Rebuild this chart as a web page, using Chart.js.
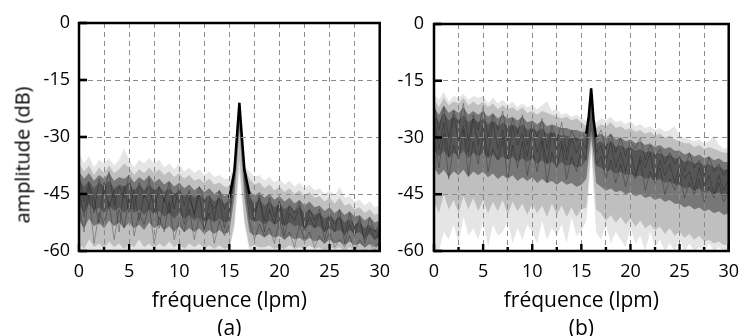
<!DOCTYPE html>
<html>
<head>
<meta charset="utf-8">
<script src="https://cdn.jsdelivr.net/npm/chart.js@4.4.1/dist/chart.umd.min.js"></script>
<style>
  body { margin: 0; background: #fff; }
  #wrap { position: relative; width: 749px; height: 336px; overflow: hidden; }
  canvas { position: absolute; top: 0; }
  #chartA { left: 0; }
  #chartB { left: 380px; }
  #yTitle {
    position: absolute; left: 22px; top: 155px;
    transform: translate(-50%, -50%) rotate(-90deg);
    font: 20px 'Open Sans', sans-serif; color: #000; white-space: nowrap;
  }
</style>
</head>
<body>
<div id="wrap">
  <canvas id="chartA" width="400" height="336"></canvas>
  <canvas id="chartB" width="369" height="336"></canvas>
  <div id="yTitle">amplitude (dB)</div>
</div>
<script>
// frequency axis (lpm), extra points around the 16 lpm peak
const freq = [0,0.5,1,1.5,2,2.5,3,3.5,4,4.5,5,5.5,6,6.5,7,7.5,8,8.5,9,9.5,
  10,10.5,11,11.5,12,12.5,13,13.5,14,14.5,15,15.5,15.75,16,16.25,16.5,17,17.5,18,18.5,
  19,19.5,20,20.5,21,21.5,22,22.5,23,23.5,24,24.5,25,25.5,26,26.5,27,27.5,28,28.5,
  29,29.5,30];

const xTickLabels = [0, 5, 10, 15, 20, 25, 30];
const yTickLabels = [0, -15, -30, -45, -60];

// ---- panel (a) ----
const aUpper = [-34,-37,-35,-38,-36,-37,-35.5,-37.5,-36,-33,
  -36,-38,-36,-37,-35.5,-37,-36,-38,-37,-38.5,
  -37,-39,-38,-39.5,-38.5,-40,-39,-40.5,-40,-41,
  -41,-37,-29,-20.5,-29,-37.5,-39,-40.5,-40,-41.5,
  -40.5,-42,-41,-42.5,-41.5,-43,-42,-43.5,-42.5,-44,
  -43.5,-45,-44,-45.5,-43,-46,-45.5,-47,-46.5,-48,
  -47,-48.5,-48];
const aLower = [-60,-60,-60,-60,-60,-60,-60,-60,-60,-60,
  -60,-60,-60,-60,-60,-60,-60,-60,-60,-60,
  -60,-60,-60,-60,-60,-60,-60,-60,-60,-60,
  -60,-54,-47,-39,-47,-53,-60,-60,-60,-60,
  -60,-60,-60,-60,-60,-60,-60,-60,-60,-60,
  -60,-60,-60,-60,-60,-60,-60,-60,-60,-60,
  -60,-60,-60];
const aMidTop = [-37,-39,-37.5,-40,-38,-39.5,-37.5,-39.5,-38.5,-37,
  -38,-40,-38.5,-39.5,-38,-39.5,-38.5,-40,-39,-40.5,
  -39.5,-41,-40,-41.5,-41,-42,-41,-42.5,-42,-43,
  -43,-38,-29.5,-21,-29.5,-38,-41,-42.5,-42,-43.5,
  -42.5,-44,-43,-44.5,-43.5,-45,-44,-45.5,-44.5,-46,
  -45.5,-47,-46,-47.5,-46,-48,-47.5,-49,-48.5,-50,
  -49,-50.5,-50];
const aMidBot = [-58,-59.5,-57,-59,-58,-59.5,-57.5,-59,-58,-59.5,
  -58,-59,-57,-59,-58,-59.5,-58,-59,-57.5,-59,
  -58,-59.5,-58,-59,-58,-59.5,-58.5,-59.5,-58.5,-59.5,
  -59,-53,-44,-36,-44,-52,-59,-58.5,-59,-59,
  -58.5,-59.5,-59,-59.5,-58.5,-59.5,-59,-59.5,-58.5,-59.5,
  -59,-60,-59,-59.5,-59,-60,-59,-60,-59.5,-60,
  -59.5,-60,-60];
const aDarkTop = [-39,-41,-39.5,-41.5,-40,-41,-39.5,-41.5,-40.5,-41,
  -40,-42,-40.5,-41.5,-40,-42,-41,-42.5,-41.5,-43,
  -42,-43.5,-42.5,-44,-43,-44.5,-43.5,-45,-44,-45.5,
  -45,-38.5,-30,-21.5,-30,-39,-44,-45.5,-44.5,-46,
  -45,-46.5,-45.5,-47,-46,-47.5,-46.5,-48,-47,-48.5,
  -48,-49.5,-48.5,-50,-49,-50.5,-49.5,-51,-50.5,-52,
  -51,-52.5,-52];
const aDarkBot = [-52,-54,-51.5,-53.5,-52.5,-54,-52,-53.5,-52.5,-54,
  -52.5,-54,-53,-54.5,-52.5,-54,-53,-54.5,-53.5,-55,
  -53.5,-55,-54,-55,-54,-55.5,-54.5,-55.5,-54.5,-55.5,
  -55,-46,-37,-28,-37,-46,-55,-56,-55.5,-56.5,
  -55.5,-56.5,-56,-57,-56,-57,-56.5,-57.5,-56.5,-57.5,
  -57,-58,-57,-58,-57.5,-58.5,-57.5,-58.5,-58,-59,
  -58,-59,-58.5];
const aCoreTop = [-41,-43,-41.5,-43.5,-42,-43,-41.5,-43.5,-42.5,-43,
  -42,-44,-42.5,-44,-42.5,-44,-43,-44.5,-43.5,-45,
  -44,-45.5,-44.5,-46,-45,-46.5,-45.5,-47,-46,-47.5,
  -47,-39,-30,-21.5,-30,-39.5,-46,-47.5,-46.5,-48,
  -47,-48.5,-47.5,-49,-48,-49.5,-48.5,-50,-49,-50.5,
  -50,-51.5,-50.5,-52,-51,-52.5,-51.5,-53,-52.5,-54,
  -53,-54.5,-54];
const aCoreBot = [-48,-50,-47.5,-49.5,-48.5,-50,-48,-49.5,-48.5,-50,
  -48.5,-50,-49,-50.5,-49,-50.5,-49.5,-51,-50,-51.5,
  -50,-51.5,-50.5,-52,-51,-52.5,-51.5,-52.5,-51.5,-52.5,
  -52,-42,-33,-24,-33,-42,-51.5,-52.5,-52,-53,
  -52,-53,-52.5,-53.5,-52.5,-53.5,-53,-54,-53,-54,
  -53.5,-55,-54,-55,-54.5,-55.5,-54.5,-55.5,-55,-56.5,
  -55.5,-57,-56.5];
const aTrace1 = [-40,-47,-42,-50,-41,-45,-39,-48,-43,-46,
  -40,-49,-42,-46,-41,-50,-43,-47,-42,-49,
  -43,-48,-44,-51,-43,-47,-45,-52,-44,-49,
  -46,-39,-30,-21,-30,-39,-45,-50,-46,-52,
  -46,-51,-47,-53,-48,-50,-47,-54,-49,-52,
  -49,-55,-50,-53,-51,-56,-50,-54,-52,-57,
  -51,-55,-53];
const aTrace2 = [-48,-55,-45,-58,-50,-53,-47,-57,-49,-54,
  -46,-56,-50,-53,-48,-58,-51,-55,-47,-57,
  -52,-55,-49,-57,-51,-54,-50,-58,-52,-56,
  -53,-40,-31,-22,-31,-40,-52,-57,-53,-56,
  -54,-58,-52,-57,-55,-59,-53,-57,-55,-59,
  -56,-58,-55,-59,-57,-59,-56,-60,-57,-59,
  -58,-60,-57];
const aTrace3 = [-44,-51,-43,-46,-53,-42,-49,-44,-55,-43,
  -50,-44,-52,-45,-48,-43,-54,-46,-50,-45,
  -47,-53,-46,-50,-45,-55,-47,-49,-46,-54,
  -49,-39.5,-30.5,-21.5,-30.5,-39.5,-47,-52,-45,-55,
  -49,-53,-47,-56,-50,-52,-48,-55,-51,-54,
  -50,-57,-52,-55,-49,-58,-53,-56,-51,-58,
  -54,-57,-55];
const aPeak = [null,null,null,null,null,null,null,null,null,null,
  null,null,null,null,null,null,null,null,null,null,
  null,null,null,null,null,null,null,null,null,null,
  -46,-39,-30,-21,-30,-38.5,-45,null,null,null,
  null,null,null,null,null,null,null,null,null,null,
  null,null,null,null,null,null,null,null,null,null,
  null,null,null];

// ---- panel (b) ----
const bUpper = [-18.5,-20,-18,-20.5,-19,-19.5,-18.5,-20,-19,-19.5,
  -19,-21,-19.5,-21,-20,-21.5,-20.5,-22,-21,-22,
  -21.5,-22.5,-21.5,-20.5,-23,-22.5,-24,-23.5,-24.5,-24,
  -25,-25.5,-24,-16.5,-25,-26,-25,-25.5,-24.5,-26,
  -25.5,-26.5,-25.5,-27,-26.5,-27.5,-27,-28,-27.5,-28.5,
  -28,-27,-29.5,-30,-30.5,-31,-30.5,-31.5,-31,-29.5,
  -32,-33,-32.5];
const bLower = [-60,-60,-55,-57,-53,-58,-51,-56,-54,-57,
  -52,-59,-53,-56,-55,-52,-58,-54,-57,-53,
  -55,-58,-52,-57,-54,-56,-53,-58,-51,-56,
  -55,-52,-45,-33,-45,-55,-57,-53,-58,-55,
  -57,-59,-54,-58,-56,-60,-55,-59,-57,-60,
  -58,-60,-57,-60,-58,-60,-59,-60,-58,-60,
  -59,-60,-60];
const bMidTop = [-20,-22,-19.5,-21.5,-20.5,-21,-19.5,-21.5,-20.5,-21.5,
  -20.5,-22,-21,-22.5,-21.5,-22.5,-22,-23,-22,-23.5,
  -23,-24,-23,-23.5,-24,-24.5,-25,-24.5,-25.5,-25,
  -26,-27,-25,-17,-26,-27.5,-26.5,-27,-26,-27.5,
  -27,-28,-27.5,-28.5,-28,-29,-28.5,-29.5,-29,-30,
  -29.5,-30.5,-31,-31.5,-31.5,-32.5,-32,-33,-32.5,-33,
  -33.5,-34,-34];
const bMidBot = [-47,-50,-45,-49,-46.5,-50,-45.5,-49,-46,-49.5,
  -46.5,-50,-47,-49.5,-46.5,-50.5,-47,-49.5,-47.5,-50.5,
  -47.5,-50,-48,-51,-47.5,-50.5,-48,-51,-48.5,-51,
  -49,-48.5,-41,-32,-41,-49,-50,-52,-50.5,-52.5,
  -51,-53,-51.5,-53.5,-52,-54,-53,-54.5,-53.5,-55.5,
  -54,-56,-55,-56.5,-55.5,-57,-56,-57.5,-57,-58,
  -57.5,-58.5,-58];
const bDarkTop = [-22,-24,-21.5,-23.5,-22.5,-23.5,-22,-24,-23,-24,
  -23,-24.5,-23.5,-25,-24,-25,-24.5,-25.5,-24.5,-26,
  -25.5,-26.5,-25.5,-27,-26.5,-27,-27.5,-27.5,-28,-28,
  -28.5,-28.5,-25.5,-17.5,-27,-29.5,-29,-30,-29,-30.5,
  -30,-31,-30.5,-31.5,-31,-32,-31.5,-32.5,-32,-33,
  -32.5,-33.5,-33.5,-34.5,-34,-35,-34.5,-35.5,-35,-36,
  -35.5,-36.5,-36.5];
const bDarkBot = [-38,-40,-38.5,-40.5,-39,-40,-38.5,-40.5,-39,-40,
  -39,-40.5,-39.5,-41,-40,-41,-40,-41.5,-40.5,-41.5,
  -40.5,-42,-41,-42,-41.5,-42.5,-41.5,-42.5,-42,-43,
  -42.5,-41,-35,-30,-35,-42,-43,-44,-43.5,-44.5,
  -44,-45,-44.5,-45.5,-45,-46,-45.5,-46.5,-46,-47,
  -46.5,-47.5,-47.5,-48.5,-48,-49,-48.5,-49.5,-49,-50,
  -49.5,-50.5,-50];
const bCoreTop = [-24,-26,-23.5,-25.5,-24.5,-25.5,-24,-26,-25,-26,
  -25,-26.5,-25.5,-27,-26,-27,-26.5,-27.5,-26.5,-28,
  -27.5,-28.5,-27.5,-29,-28.5,-29,-29.5,-29.5,-30,-30,
  -30.5,-30,-26,-18,-27.5,-31.5,-31,-32,-31,-32.5,
  -32,-33,-32.5,-33.5,-33,-34,-33.5,-34.5,-34,-35,
  -34.5,-35.5,-35.5,-36.5,-36,-37,-36.5,-37.5,-37,-38,
  -37.5,-38.5,-38.5];
const bCoreBot = [-33,-35,-33.5,-35.5,-34,-35,-33.5,-35.5,-34,-35,
  -34,-35.5,-34.5,-36,-35,-36,-35,-36.5,-35.5,-36.5,
  -35.5,-37,-36,-37,-36.5,-37.5,-36.5,-37.5,-37,-38,
  -37.5,-36,-31,-28,-31,-37.5,-38,-39,-38.5,-39.5,
  -39,-40,-39.5,-40.5,-40,-41,-40.5,-41.5,-41,-42,
  -41.5,-42.5,-42.5,-43.5,-43,-44,-43.5,-44.5,-44,-45,
  -44.5,-45.5,-45];
const bTrace1 = [-21,-28,-22,-30,-23,-27,-21,-31,-24,-28,
  -22,-30,-24,-28,-23,-31,-25,-29,-24,-32,
  -26,-30,-25,-33,-27,-31,-26,-34,-28,-31,
  -29,-30,-25,-17,-26,-31,-28,-33,-29,-34,
  -30,-35,-31,-33,-30,-36,-32,-35,-33,-37,
  -34,-37,-35,-39,-34,-38,-36,-40,-35,-39,
  -37,-40,-38];
const bTrace2 = [-30,-38,-29,-41,-32,-36,-28,-40,-31,-37,
  -29,-39,-33,-36,-30,-41,-32,-38,-31,-40,
  -33,-39,-31,-42,-34,-38,-32,-41,-35,-39,
  -33,-36,-26,-17.5,-27,-37,-35,-41,-36,-42,
  -37,-43,-38,-41,-36,-44,-39,-42,-38,-45,
  -41,-44,-40,-46,-42,-45,-41,-47,-43,-46,
  -42,-47,-44];
const bTrace3 = [-25,-33,-26,-35,-24,-31,-27,-34,-25,-32,
  -27,-35,-26,-33,-28,-36,-27,-32,-29,-35,
  -28,-34,-30,-37,-29,-33,-31,-36,-30,-34,
  -31,-33,-25.5,-17,-26.5,-34,-32,-37,-31,-38,
  -34,-39,-33,-40,-35,-38,-34,-41,-36,-40,
  -37,-42,-38,-41,-39,-44,-38,-43,-40,-45,
  -40,-44,-41];
const bPeak = [null,null,null,null,null,null,null,null,null,null,
  null,null,null,null,null,null,null,null,null,null,
  null,null,null,null,null,null,null,null,null,null,
  null,-29,-24.5,-17,-25.5,-30,null,null,null,null,
  null,null,null,null,null,null,null,null,null,null,
  null,null,null,null,null,null,null,null,null,null,
  null,null,null];

const FONT = "'Open Sans', sans-serif";

function pts(arr) {
  return freq.map((f, i) => ({ x: f, y: arr[i] }));
}

function band(top, bot, color) {
  return [
    { data: pts(top), fill: '+1', backgroundColor: color, borderColor: 'transparent', borderWidth: 0 },
    { data: pts(bot), fill: false, borderColor: 'transparent', borderWidth: 0 }
  ];
}

function trace(arr) {
  return { data: pts(arr), fill: false, borderColor: 'rgba(20,20,20,0.4)', borderWidth: 0.8 };
}

// frame + inner tick marks, like the original plot
const framePlugin = {
  id: 'frame',
  afterDraw(chart) {
    const { ctx, chartArea: a, scales } = chart;
    ctx.save();
    ctx.fillStyle = '#000';
    scales.x.ticks.forEach(t => {
      const px = scales.x.getPixelForValue(t.value);
      const major = xTickLabels.includes(t.value);
      const h = major ? 7 : 4;
      ctx.fillRect(px - 1.2, a.bottom - h, 2.4, h);
    });
    scales.y.ticks.forEach(t => {
      const py = scales.y.getPixelForValue(t.value);
      ctx.fillRect(a.left, py - 1.3, 8, 2.6);
    });
    ctx.lineWidth = 2.5;
    ctx.strokeStyle = '#000';
    ctx.strokeRect(a.left, a.top, a.right - a.left, a.bottom - a.top);
    ctx.restore();
  }
};

function makeChart(id, s, label, box) {
  const datasets = [
    { data: pts(s.peak), fill: false, borderColor: '#000', borderWidth: 2.5, spanGaps: false },
    trace(s.t1), trace(s.t2), trace(s.t3),
    ...band(s.coreTop, s.coreBot, 'rgba(0,0,0,0.28)'),
    ...band(s.darkTop, s.darkBot, 'rgba(0,0,0,0.38)'),
    ...band(s.midTop, s.midBot, 'rgba(0,0,0,0.17)'),
    ...band(s.upper, s.lower, 'rgba(0,0,0,0.10)')
  ];
  return new Chart(document.getElementById(id), {
    type: 'line',
    data: { datasets },
    options: {
      responsive: false,
      animation: false,
      layout: { autoPadding: false, padding: { left: 0, top: box.top, right: box.right, bottom: 0 } },
      elements: { point: { radius: 0 }, line: { tension: 0 } },
      plugins: { legend: { display: false }, tooltip: { enabled: false } },
      scales: {
        x: {
          type: 'linear', min: 0, max: 30,
          afterFit: sc => { sc.height = 336 - box.bottom; },
          ticks: {
            stepSize: 2.5, autoSkip: false, maxRotation: 0, padding: 10,
            color: '#000', font: { family: FONT, size: 18 },
            callback: v => xTickLabels.includes(v) ? String(v) : ''
          },
          grid: { color: '#8a8a8a', lineWidth: 1, drawTicks: false, z: 1 },
          border: { display: false, dash: [5, 4] },
          title: {
            display: true, text: ['fréquence (lpm)', label], color: '#000',
            font: { family: FONT, size: 21, lineHeight: '28px' },
            padding: { top: 0, bottom: -7 }
          }
        },
        y: {
          min: -60, max: 0,
          afterFit: sc => { sc.width = box.left; },
          ticks: {
            stepSize: 15, padding: box.yPad, color: '#000',
            font: { family: FONT, size: 18 },
            callback: v => yTickLabels.includes(v) ? String(v) : ''
          },
          grid: { color: '#8a8a8a', lineWidth: 1, drawTicks: false, z: 1 },
          border: { display: false, dash: [5, 4] }
        }
      }
    },
    plugins: [framePlugin]
  });
}

makeChart('chartA', {
  peak: aPeak, t1: aTrace1, t2: aTrace2, t3: aTrace3,
  coreTop: aCoreTop, coreBot: aCoreBot,
  darkTop: aDarkTop, darkBot: aDarkBot, midTop: aMidTop, midBot: aMidBot,
  upper: aUpper, lower: aLower
}, '(a)', { left: 79, top: 23, right: 18, bottom: 251, yPad: 9 });

makeChart('chartB', {
  peak: bPeak, t1: bTrace1, t2: bTrace2, t3: bTrace3,
  coreTop: bCoreTop, coreBot: bCoreBot,
  darkTop: bDarkTop, darkBot: bDarkBot, midTop: bMidTop, midBot: bMidBot,
  upper: bUpper, lower: bLower
}, '(b)', { left: 54, top: 24, right: 11, bottom: 251, yPad: 10 });
</script>
</body>
</html>
